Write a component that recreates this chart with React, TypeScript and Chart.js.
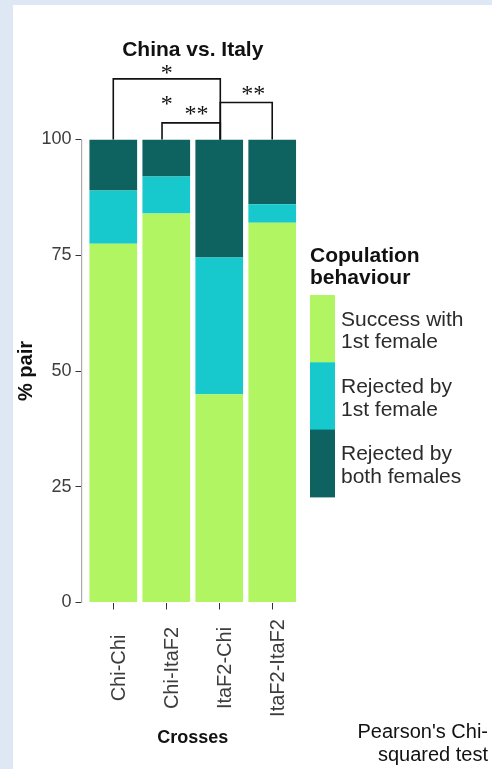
import React, { useEffect, useRef } from 'react';
import { Chart, registerables } from 'chart.js';

Chart.register(...registerables);

// ---- data ----
const chartTitle = 'China vs. Italy';
const categories = ['Chi-Chi', 'Chi-ItaF2', 'ItaF2-Chi', 'ItaF2-ItaF2'];
const successWith1st = [77.5, 84, 45, 82];
const rejectedBy1st = [11.5, 8, 29.5, 4];
const rejectedByBoth = [11, 8, 25.5, 14];
const seriesLabels = [
  ['Success with', '1st female'],
  ['Rejected by', '1st female'],
  ['Rejected by', 'both females'],
];
const seriesColors = ['#b2f562', '#17c9cc', '#0e6361'];
const yTicks = [0, 25, 50, 75, 100];
const legendTitle = ['Copulation', 'behaviour'];
const yAxisTitle = '% pair';
const xAxisTitle = 'Crosses';
const footnote = ["Pearson's Chi-", 'squared test'];
// significance brackets (x in cross positions, 1 = first cross; level in % units)
const bracketFrom = [1, 1.92, 3.02];
const bracketTo = [3.02, 3.02, 4];
const bracketLevel = [113.1, 103.6, 108];
const starText = ['*', '*', '**', '**'];
const starX = [2.01, 2.01, 2.57, 3.64];
const starY = [115.2, 108.5, 106.4, 110.7];

const SANS = "'Liberation Sans', Arial, Helvetica, sans-serif";
const SERIF = "'Liberation Serif', 'Times New Roman', serif";

const overlayPlugin = {
  id: 'overlay',
  afterDraw(chart: any) {
    const { ctx, chartArea } = chart;
    const xs = chart.scales.x;
    const ys = chart.scales.y;
    ctx.save();

    // x tick labels (rotated, centred along their length)
    ctx.fillStyle = '#3d3d3d';
    ctx.font = `20px ${SANS}`;
    ctx.textAlign = 'center';
    ctx.textBaseline = 'middle';
    const labelCenterY = chartArea.bottom + 65.5;
    xs.ticks.forEach((t: any) => {
      const name = categories[Math.round(t.value) - 1];
      if (!name) return;
      const px = xs.getPixelForValue(t.value);
      ctx.save();
      ctx.translate(px + 6.5, labelCenterY);
      ctx.rotate(-Math.PI / 2);
      ctx.fillText(name, 0, 0);
      ctx.restore();
    });

    // significance brackets
    ctx.strokeStyle = '#111';
    ctx.lineWidth = 1.6;
    const yBase = ys.getPixelForValue(100);
    for (let i = 0; i < bracketLevel.length; i++) {
      const x1 = xs.getPixelForValue(bracketFrom[i]);
      const x2 = xs.getPixelForValue(bracketTo[i]);
      const yTop = ys.getPixelForValue(bracketLevel[i]);
      ctx.beginPath();
      ctx.moveTo(x1, yBase);
      ctx.lineTo(x1, yTop);
      ctx.lineTo(x2, yTop);
      ctx.lineTo(x2, yBase);
      ctx.stroke();
    }
    const starSize = 24;
    ctx.font = `${starSize}px ${SERIF}`;
    ctx.fillStyle = '#111';
    ctx.textAlign = 'center';
    ctx.textBaseline = 'alphabetic';
    for (let i = 0; i < starText.length; i++) {
      ctx.fillText(
        starText[i],
        xs.getPixelForValue(starX[i]),
        ys.getPixelForValue(starY[i]) + 0.47 * starSize
      );
    }

    // legend
    const lx = chartArea.right + 6;
    const mid = (chartArea.top + chartArea.bottom) / 2;
    const keysTop = mid - 76;
    const keyH = 67.3;
    const keyW = 25;
    ctx.textAlign = 'left';
    ctx.textBaseline = 'middle';
    ctx.fillStyle = '#111';
    ctx.font = `bold 21px ${SANS}`;
    ctx.fillText(legendTitle[0], lx, keysTop - 38.3);
    ctx.fillText(legendTitle[1], lx, keysTop - 17);
    ctx.font = `21px ${SANS}`;
    for (let i = 0; i < seriesLabels.length; i++) {
      const top = keysTop + i * keyH;
      ctx.fillStyle = seriesColors[i];
      ctx.fillRect(lx, top, keyW, keyH + 0.5);
      ctx.fillStyle = '#2b2b2b';
      ctx.fillText(seriesLabels[i][0], lx + 31, top + 25);
      ctx.fillText(seriesLabels[i][1], lx + 31, top + 47.5);
    }

    // footnote
    ctx.textAlign = 'right';
    ctx.fillStyle = '#111';
    ctx.font = `20px ${SANS}`;
    const H = chart.height;
    ctx.fillText(footnote[0], chart.width - 4, H - 37);
    ctx.fillText(footnote[1], chart.width - 4, H - 14);

    ctx.restore();
  },
};

export default function App() {
  const ref = useRef<HTMLCanvasElement>(null);

  useEffect(() => {
    const seriesValues = [successWith1st, rejectedBy1st, rejectedByBoth];
    const chart = new Chart(ref.current as HTMLCanvasElement, {
      type: 'bar',
      data: {
        datasets: seriesValues.map((vals, s) => ({
          label: seriesLabels[s].join(' '),
          data: vals.map((v, i) => ({ x: i + 1, y: v })),
          backgroundColor: seriesColors[s],
          borderWidth: 0,
          barPercentage: 0.9,
          categoryPercentage: 1,
        })),
      },
      options: {
        responsive: false,
        animation: false,
        layout: { padding: { left: 0, right: 188, top: 0, bottom: 0 } },
        plugins: {
          legend: { display: false },
          tooltip: { enabled: false },
          title: {
            display: true,
            text: chartTitle,
            fullSize: false,
            color: '#111',
            font: { size: 21, weight: 'bold', family: SANS },
            padding: { top: 32.4, bottom: 76.9 },
          },
        },
        scales: {
          x: {
            type: 'linear',
            min: 0.4,
            max: 4.6,
            offset: false,
            stacked: true,
            afterFit: (s: any) => {
              s.height = 166.5;
            },
            ticks: {
              stepSize: 1,
              includeBounds: false,
              autoSkip: false,
              color: 'rgba(0,0,0,0)',
              font: { size: 19, family: SANS },
              maxRotation: 0,
              minRotation: 0,
              callback: (v: any) => categories[Math.round(v) - 1] ?? '',
            },
            grid: {
              display: true,
              offset: false,
              drawOnChartArea: false,
              drawTicks: true,
              tickLength: 7,
              color: '#333',
              lineWidth: 1,
            },
            border: { display: false },
            title: {
              display: true,
              text: xAxisTitle,
              color: '#111',
              font: { size: 18, weight: 'bold', family: SANS },
              padding: { top: 0, bottom: 20 },
            },
          },
          y: {
            type: 'linear',
            min: 0,
            max: 100,
            stacked: true,
            afterFit: (s: any) => {
              s.width = 68.5;
            },
            afterBuildTicks: (s: any) => {
              s.ticks = yTicks.map((v) => ({ value: v }));
            },
            ticks: {
              color: '#3d3d3d',
              font: { size: 18, family: SANS },
              padding: 4,
            },
            grid: {
              display: true,
              drawOnChartArea: false,
              drawTicks: true,
              tickLength: 6,
              color: '#333',
              lineWidth: 1,
            },
            border: { display: true, color: '#aaaaaa', width: 1.2 },
            title: {
              display: true,
              text: yAxisTitle,
              color: '#111',
              font: { size: 20, weight: 'bold', family: SANS },
              padding: { top: 1.5, bottom: 0 },
            },
          },
        },
      },
      plugins: [overlayPlugin],
    } as any);
    return () => chart.destroy();
  }, []);

  return (
    <div
      style={{
        position: 'fixed',
        left: 0,
        top: 0,
        width: 492,
        height: 769,
        background: '#dde8f4',
      }}
    >
      <div
        style={{
          position: 'absolute',
          left: 13,
          top: 5,
          width: 479,
          height: 764,
          background: '#ffffff',
        }}
      >
        <canvas
          ref={ref}
          width={479}
          height={764}
          style={{ display: 'block', width: 479, height: 764 }}
        />
      </div>
    </div>
  );
}
